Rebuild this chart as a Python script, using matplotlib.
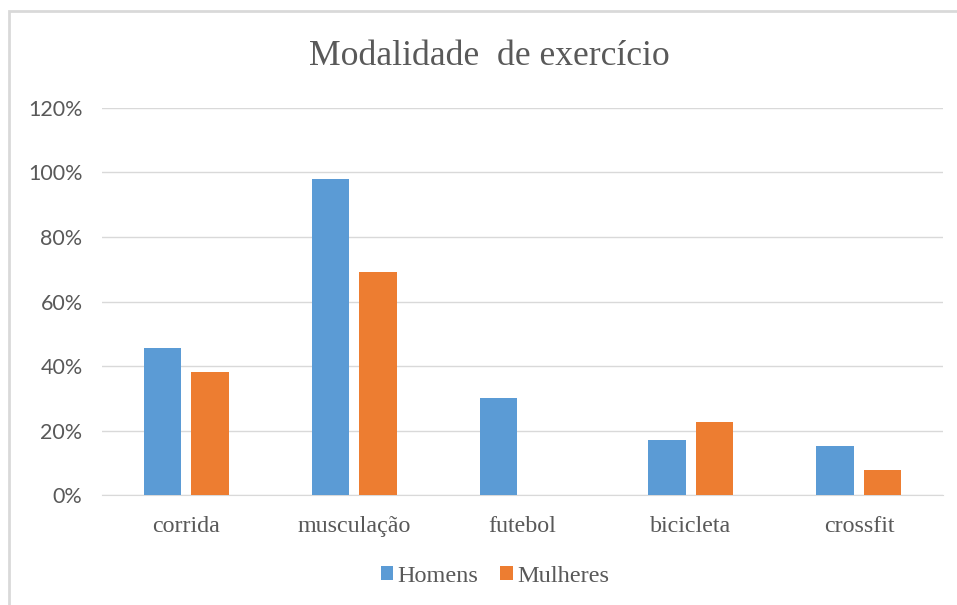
import matplotlib
matplotlib.use("Agg")
from matplotlib import pyplot as plt
from matplotlib.patches import Rectangle
from matplotlib.ticker import PercentFormatter
import numpy as np

# dados
categorias = ["corrida", "musculação", "futebol", "bicicleta", "crossfit"]
homens = [0.455, 0.978, 0.302, 0.172, 0.153]
mulheres = [0.383, 0.692, 0.0, 0.228, 0.077]
yticks = [0, 0.2, 0.4, 0.6, 0.8, 1.0, 1.2]

azul = "#5B9BD5"
laranja = "#ED7D31"
cinza = "#595959"
grade = "#D9D9D9"

fig = plt.figure(figsize=(9.57, 6.05), dpi=100)
ax = fig.add_axes([102 / 957, 1 - 495.3 / 605, (943 - 102) / 957, (495.3 - 107.7) / 605])

# borda do grafico (estilo Excel)
fig.patches.append(Rectangle((9 / 957, -0.1), 1.2, 1 - 11 / 605 + 0.1, transform=fig.transFigure,
                             fill=False, edgecolor=grade, linewidth=2, zorder=0))

x = np.arange(len(categorias))
larg = 0.223
desl = 0.1415
ax.bar(x - desl, homens, larg, color=azul, label="Homens", zorder=3)
ax.bar(x + desl, mulheres, larg, color=laranja, label="Mulheres", zorder=3)

ax.set_xlim(-0.5, len(categorias) - 0.5)
ax.set_ylim(0, 1.2)
ax.set_yticks(yticks)
ax.yaxis.set_major_formatter(PercentFormatter(1.0, decimals=0))
ax.grid(axis="y", color=grade, linewidth=1, zorder=0)
ax.set_axisbelow(True)
for s in ["top", "right", "left"]:
    ax.spines[s].set_visible(False)
ax.spines["bottom"].set_color(grade)
ax.tick_params(axis="both", length=0)
ax.tick_params(axis="y", pad=14, labelcolor=cinza)
ax.tick_params(axis="x", pad=15, labelcolor=cinza)
for t in ax.get_yticklabels():
    t.set_fontfamily("Lato")
    t.set_fontsize(15.5)
ax.set_xticks(x)
ax.set_xticklabels(categorias, fontfamily="Liberation Serif", fontsize=17.3)

fig.text(489 / 957, 1 - 65 / 605, "Modalidade  de exercício", ha="center", va="baseline",
         fontfamily="Liberation Serif", fontsize=25.7, color=cinza)

ax.legend(loc="center", bbox_to_anchor=(495 / 957, 1 - 576 / 605), bbox_transform=fig.transFigure,
          ncol=2, frameon=False, prop={"family": "Liberation Serif", "size": 17.5},
          labelcolor=cinza, handlelength=0.5, handleheight=0.5, handletextpad=0.2,
          columnspacing=0.9)

plt.savefig("out.png", dpi=100)
